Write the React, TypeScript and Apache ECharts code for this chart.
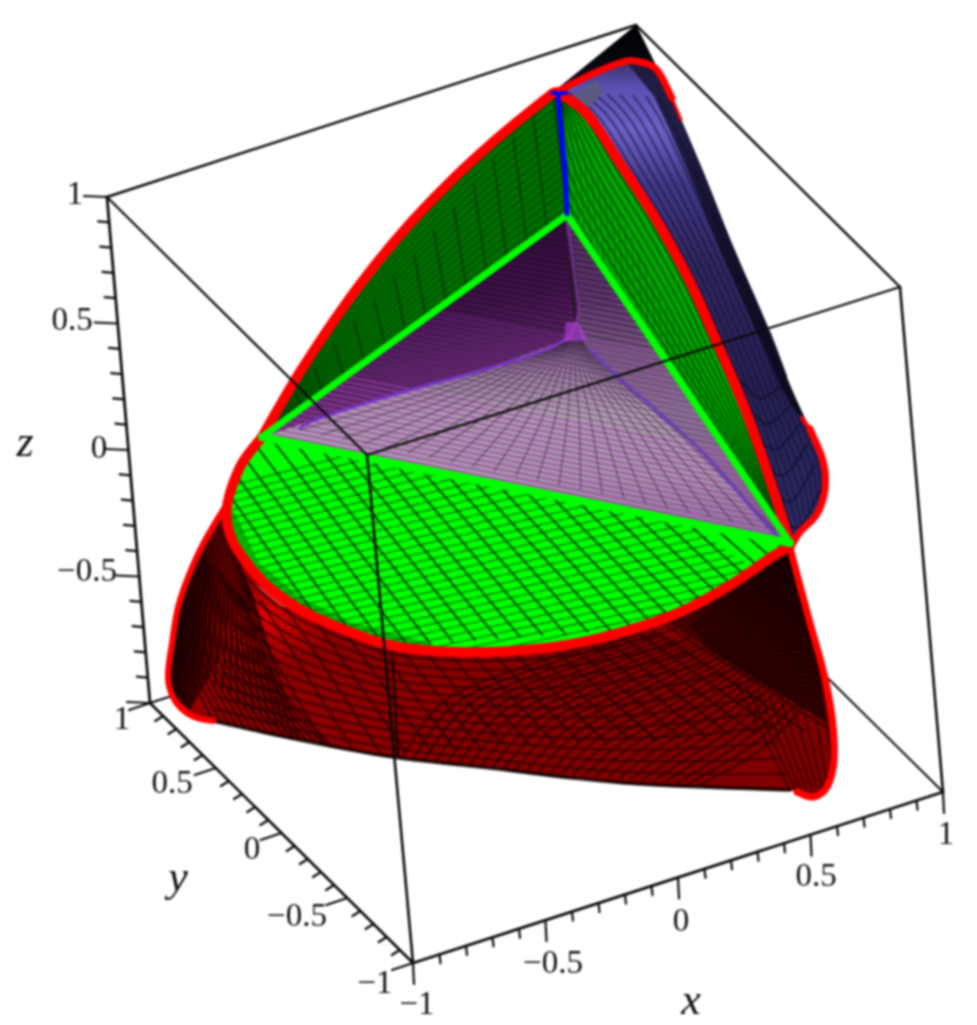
import React, { useEffect, useRef } from "react";
import * as echarts from "echarts";

type Pt = [number, number];

// Picture-space frame of the projected 3D plot
const FRAME_W = 977;
const FRAME_H = 1025;

// Projected cube corners
const cubeTopLeft: Pt = [107, 197];
const cubeTopBack: Pt = [636, 25];
const cubeTopRight: Pt = [900, 287];
const cubeTopFront: Pt = [367, 455];
const cubeLowLeft: Pt = [150, 703];
const cubeLowFront: Pt = [413, 963];
const cubeLowRight: Pt = [943, 792];
const cubeLowBack: Pt = [680, 532];

// Axis ticks
const tickValues = [-1, -0.9, -0.8, -0.7, -0.6, -0.5, -0.4, -0.3, -0.2, -0.1, 0, 0.1, 0.2, 0.3, 0.4, 0.5, 0.6, 0.7, 0.8, 0.9, 1];
const majorValues = [-1, -0.5, 0, 0.5, 1];
const zTickLabels: [string, number, number][] = [["1", 75, 193], ["0.5", 72, 319], ["0", 99, 447], ["−0.5", 87, 570]];
const yTickLabels: [string, number, number][] = [["1", 122, 718], ["0.5", 172, 782], ["0", 252, 848], ["−0.5", 297, 915], ["−1", 375, 982]];
const xTickLabels: [string, number, number][] = [["−1", 417, 1003], ["−0.5", 553, 962], ["0", 681, 920], ["0.5", 816, 875], ["1", 946, 833]];
const axisNames: [string, number, number][] = [["z", 25, 441], ["y", 178, 876], ["x", 691, 999]];

// Surface boundary curves
const arcUpperLeft: Pt[] = [[262, 437], [300, 372], [350, 298], [400, 235], [450, 182], [500, 136], [553, 93]];
const arcRight: Pt[] = [[556, 92], [587, 114], [623, 168], [657, 221], [690, 282], [717, 343], [743, 404], [767, 471], [790, 543]];
const arcBottom: Pt[] = [[262, 437], [240, 467], [227, 507], [231, 537], [247, 563], [270, 588], [305, 612], [350, 632], [390, 645], [435, 651], [490, 652], [560, 646], [622, 632], [680, 612], [732, 584], [770, 558], [790, 546]];
const rimLeft: Pt[] = [[226, 505], [200, 550], [180, 600], [172, 643], [168, 677], [173, 697], [183, 710], [197, 718], [213, 721]];
const edgeBottom: Pt[] = [[213, 721], [300, 740], [393, 757], [490, 768], [573, 778], [657, 785], [790, 790]];
const rimRight: Pt[] = [[790, 548], [810, 623], [823, 670], [832, 717], [834, 760], [827, 787], [813, 797], [797, 792]];
const blueTopArc: Pt[] = [[555, 93], [590, 75], [623, 62], [640, 62], [657, 70], [672, 98]];
const blueRightEdge: Pt[] = [[672, 98], [703, 171], [733, 246], [767, 325], [790, 385], [810, 429]];
const blueLobe: Pt[] = [[810, 429], [823, 461], [825, 489], [817, 514], [800, 532], [792, 545]];
const blueInnerEdge: Pt[] = [[654, 96], [690, 176], [721, 252], [757, 332], [784, 392], [810, 429]];
const blueLine: Pt[] = [[558, 96], [561, 130], [565, 172], [567, 214]];

const cornerLeft: Pt = [262, 437];
const cornerTop: Pt = [567, 215];
const cornerRight: Pt = [790, 543];

const violetLeft: Pt[] = [[300, 428], [323, 417], [400, 393], [490, 368], [540, 352], [567, 339]];
const violetRight: Pt[] = [[590, 350], [623, 382], [657, 411], [707, 457], [757, 514], [777, 536]];
const violetUp: Pt[] = [[567, 221], [575, 279], [578, 314], [570, 339]];

type Layer = { pts: Pt[]; closed?: boolean; fill?: any; stroke?: string; width?: number; opacity?: number };
const layers: Layer[] = [];

const lin = (x0: number, y0: number, x1: number, y1: number, stops: [number, string][]) =>
  new echarts.graphic.LinearGradient(x0, y0, x1, y1, stops.map(([offset, color]) => ({ offset, color })));

function smooth(p: Pt[], sub = 8): Pt[] {
  if (p.length < 3) return p.slice();
  const out: Pt[] = [];
  for (let i = 0; i < p.length - 1; i++) {
    const a = p[Math.max(i - 1, 0)], b = p[i], c = p[i + 1], d = p[Math.min(i + 2, p.length - 1)];
    for (let s = 0; s < sub; s++) {
      const t = s / sub, t2 = t * t, t3 = t2 * t;
      out.push([
        0.5 * (2 * b[0] + (c[0] - a[0]) * t + (2 * a[0] - 5 * b[0] + 4 * c[0] - d[0]) * t2 + (3 * b[0] - a[0] - 3 * c[0] + d[0]) * t3),
        0.5 * (2 * b[1] + (c[1] - a[1]) * t + (2 * a[1] - 5 * b[1] + 4 * c[1] - d[1]) * t2 + (3 * b[1] - a[1] - 3 * c[1] + d[1]) * t3),
      ]);
    }
  }
  out.push(p[p.length - 1]);
  return out;
}

function resample(p: Pt[], m: number): Pt[] {
  const s = smooth(p);
  const len = [0];
  for (let i = 1; i < s.length; i++) len.push(len[i - 1] + Math.hypot(s[i][0] - s[i - 1][0], s[i][1] - s[i - 1][1]));
  const total = len[len.length - 1] || 1;
  const out: Pt[] = [];
  let j = 0;
  for (let k = 0; k < m; k++) {
    const d = (total * k) / (m - 1);
    while (j < s.length - 2 && len[j + 1] < d) j++;
    const u = (d - len[j]) / ((len[j + 1] - len[j]) || 1);
    out.push([s[j][0] + (s[j + 1][0] - s[j][0]) * u, s[j][1] + (s[j + 1][1] - s[j][1]) * u]);
  }
  return out;
}

function inside(q: Pt, poly: Pt[]) {
  let c = false;
  for (let i = 0, j = poly.length - 1; i < poly.length; j = i++) {
    if (poly[i][1] > q[1] !== poly[j][1] > q[1] && q[0] < ((poly[j][0] - poly[i][0]) * (q[1] - poly[i][1])) / (poly[j][1] - poly[i][1]) + poly[i][0]) c = !c;
  }
  return c;
}

function edgePoint(inPt: Pt, outPt: Pt, poly: Pt[]): Pt {
  let a = inPt, b = outPt;
  for (let i = 0; i < 7; i++) {
    const m: Pt = [(a[0] + b[0]) / 2, (a[1] + b[1]) / 2];
    if (inside(m, poly)) a = m; else b = m;
  }
  return a;
}

function clipRuns(line: Pt[], poly: Pt[]): Pt[][] {
  const runs: Pt[][] = [];
  let cur: Pt[] | null = null;
  for (let i = 0; i < line.length; i++) {
    const on = inside(line[i], poly);
    if (on) {
      if (!cur) {
        cur = [];
        if (i > 0) cur.push(edgePoint(line[i], line[i - 1], poly));
      }
      cur.push(line[i]);
    } else if (cur) {
      cur.push(edgePoint(line[i - 1], line[i], poly));
      runs.push(cur);
      cur = null;
    }
  }
  if (cur) runs.push(cur);
  return runs.filter((r) => r.length > 1);
}

const area = (pts: Pt[], fill: any, opacity = 1) => layers.push({ pts, closed: true, fill, opacity });
const curve = (pts: Pt[], stroke: string, width: number, opacity = 1) => layers.push({ pts: smooth(pts), stroke, width, opacity });
const straight = (a: Pt, b: Pt, stroke: string, width: number, opacity = 1) => layers.push({ pts: [a, b], stroke, width, opacity });

function family(a: Pt[], b: Pt[], n: number, clip: Pt[], stroke: string, width: number, opacity = 1, from = 0, to = 1) {
  const A = resample(a, 36), B = resample(b, 36);
  for (let i = 0; i <= n; i++) {
    const t = from + ((to - from) * i) / n;
    const line = A.map((p, k): Pt => [p[0] * (1 - t) + B[k][0] * t, p[1] * (1 - t) + B[k][1] * t]);
    clipRuns(line, clip).forEach((r) => layers.push({ pts: r, stroke, width, opacity }));
  }
}

const rev = (p: Pt[]) => p.slice().reverse();

function buildScene() {
  const black = "#0a0a0a";
  // hidden cube edges first
  straight(cubeLowRight, cubeLowBack, black, 2);
  straight(cubeLowLeft, cubeLowBack, black, 2);
  straight(cubeTopBack, cubeLowBack, black, 2);

  // blue back surface
  const blue: Pt[] = [cornerRight, ...rev(smooth(arcRight)), cubeTopBack, ...smooth(blueRightEdge), ...smooth(blueLobe)];
  area(blue, lin(0, 0, 0, 1, [[0, "#090512"], [0.12, "#5a50b0"], [0.2, "#6c62c8"], [0.3, "#443a8c"], [0.45, "#2e2760"], [0.7, "#252050"], [1, "#2d2a66"]]));
  family(arcRight, [...blueRightEdge, ...blueLobe.slice(1, 3)], 9, blue, "#15112f", 1.7, 0.65);
  area([cubeTopBack, ...smooth(blueRightEdge), ...rev(smooth(blueInnerEdge)), [626, 62]], lin(1, 0, 0, 0.1, [[0, "#04030c"], [1, "#1a1638"]]), 0.85);
  family([[742, 382], [760, 398], [786, 382]], [[768, 500], [797, 528], [822, 486]], 5, blue, "#0e0b26", 1.6, 0.75);
  area([[553, 92], cubeTopBack, [672, 98], [657, 70], [640, 62], [623, 62], [590, 75]], lin(0, 0, 0, 1, [[0, "#000000"], [0.7, "#0d0b18"], [1, "#25233f"]]));
  area([[569, 97], [597, 80], [603, 92], [588, 108]], "#5c5a80");
  curve(blueTopArc, "#ff0000", 7);
  curve(blueLobe, "#ff0000", 7);
  curve([[672, 98], [681, 120]], "#ff0000", 3);
  curve([[802, 418], [812, 432]], "#ff0000", 4);

  // red lower surface
  const red: Pt[] = [...smooth(rimLeft), ...smooth(edgeBottom), ...rev(smooth(rimRight)), ...rev(smooth(arcBottom)).slice(0, 120)];
  area(red, lin(0, 0, 1, 0.3, [[0, "#b00000"], [0.3, "#8e0000"], [1, "#7e0000"]]));
  const rightDark: Pt[] = [[663, 620], [790, 548], [808, 623], [820, 670], [827, 723], [760, 682]];
  const leftDark: Pt[] = [[224, 510], [200, 550], [180, 600], [172, 643], [168, 690], [190, 710], [225, 650], [250, 590]];
  area(leftDark, lin(0, 0.35, 1, 0.55, [[0, "rgba(8,0,0,1)"], [0.4, "rgba(40,0,0,0.9)"], [1, "rgba(140,0,0,0)"]]));
  area([[258, 588], [222, 628], [268, 662], [340, 640], [300, 612]], new echarts.graphic.RadialGradient(0.35, 0.4, 0.75, [{ offset: 0, color: "rgba(225,0,0,1)" }, { offset: 1, color: "rgba(170,0,0,0)" }]));
  family(arcBottom.slice(4, 15), edgeBottom, 13, red, "#2c0000", 1.7, 0.85);
  family([[240, 600], [330, 755]], [[665, 625], [830, 730]], 20, red, "#240000", 1.8, 0.85);
  family([[400, 760], [440, 705], [500, 675], [640, 630]], [[700, 785], [760, 750], [810, 700], [825, 680]], 26, red, "#240000", 1.8, 0.85);
  family([[735, 680], [790, 790]], [[827, 723], [833, 785]], 8, red, "#240000", 1.6, 0.85);
  family([[200, 550], [180, 640], [215, 725]], [[245, 600], [275, 680], [330, 745]], 15, red, "#1a0000", 1.8, 0.85);
  family([[222, 520], [175, 660]], [[250, 590], [300, 742]], 16, red, "#1a0000", 1.7, 0.85);
  area(rightDark, lin(0.95, 0, 0.25, 0.9, [[0, "#120000"], [0.5, "#3a0000"], [1, "#6a0000"]]));
  family([[690, 625], [790, 548]], [[735, 680], [827, 723]], 28, rightDark, "#070000", 1.5, 0.6);
  family([[664, 620], [735, 680]], [[790, 548], [827, 723]], 28, rightDark, "#070000", 1.4, 0.6);
  straight([392, 650], [398, 757], "#1a0000", 2.2);
  curve(edgeBottom, "#120000", 3.5, 0.85);
  area([[255, 585], [275, 592], [300, 612], [280, 606]], "#e04040", 0.7);
  curve(rimLeft, "#ff0000", 6);
  curve(rimRight, "#ff0000", 7);

  // purple inner triangle
  const tri: Pt[] = [cornerLeft, cornerTop, cornerRight];
  area(tri, lin(0, 0, 0, 1, [[0, "#2a0a34"], [0.25, "#4c1c5a"], [0.42, "#8a6a90"], [0.6, "#ae9fae"], [0.8, "#a897a9"], [1, "#8a6a98"]]));
  area([cornerLeft, cornerTop, [578, 330], [567, 339], [490, 368], [400, 393], [323, 417]], lin(0.15, 0, 0.45, 0.95, [[0, "#23072c"], [0.55, "#3f1349"], [1, "#6b2f78"]]));
  area([cornerTop, cornerRight, ...rev(smooth(violetRight)), [578, 330]], "#6a4a78", 0.55);
  family([[560, 220], [574, 220]], [cornerLeft, cornerRight], 20, tri, "#1a0520", 1.3, 0.55, 0, 0.4);
  family([[560, 220], [574, 220]], [cornerLeft, cornerRight], 15, tri, "#6d2b7c", 1.5, 0.55, 0.42, 0.7);
  family([[560, 220], [574, 220]], [cornerLeft, cornerRight], 15, tri, "#9a3fa6", 1.8, 0.75, 0.72, 1);
  family([[300, 430], [420, 395], [500, 365], [575, 330], [567, 218]], [[775, 530], [680, 435], [620, 382], [578, 330], [567, 218]], 22, tri, "#2a1a2e", 1.3, 0.5);
  curve(violetLeft, "#7b35c8", 3);
  curve(violetRight, "#6a3fb0", 3.4);
  curve(violetUp, "#9a40c8", 3, 0.6);
  area([[566, 322], [578, 322], [588, 340], [564, 342]], "#b040d8", 0.65);

  // dark green upper-left wedge
  const wedgeA: Pt[] = [...smooth(arcUpperLeft), [558, 95], cornerTop];
  area(wedgeA, "#007000");
  family([cornerLeft, cornerTop], arcUpperLeft, 16, wedgeA, "#004a00", 1.6, 0.85);
  family([[275, 415], [287, 432]], [[553, 92], [567, 215]], 14, wedgeA, "#003400", 1.7, 0.85);

  // green right wedge
  const wedgeB: Pt[] = [cornerTop, ...smooth(arcRight).slice(0, -1), cornerRight];
  area(wedgeB, "#00a800");
  family(arcRight, [[562, 100], cornerTop, cornerRight], 11, wedgeB, "#004000", 1.7, 0.85);
  family([[556, 92], [567, 215]], [[790, 543], [780, 530]], 34, wedgeB, "#004000", 1, 0.55);

  // bright green disc
  const disc: Pt[] = [...smooth(arcBottom)];
  area(disc, "#00ff00");
  area([...smooth(arcBottom.slice(2, 10)), [432, 644], [350, 622], [300, 597], [258, 562], [236, 515]], "#00a800", 0.85);
  family([[215, 490], [520, 410]], [[340, 700], [800, 600]], 30, disc, "#006a00", 1.4, 0.85);
  family([[190, 440], [340, 650]], [[700, 460], [880, 610]], 24, disc, "#003a00", 1.9, 0.95);

  // thick outlines
  curve(arcRight, "#ff0000", 10);
  curve(arcUpperLeft, "#ff0000", 10);
  curve(arcBottom, "#ff0000", 10);
  straight(cornerLeft, cornerTop, "#00ff00", 7);
  straight(cornerTop, cornerRight, "#00ff00", 7);
  straight(cornerLeft, cornerRight, "#00ff00", 8);
  curve(blueLine, "#0000ff", 5);
  straight([552, 93], [566, 93], "#0000ee", 4);

  // front cube edges
  straight(cubeTopLeft, cubeTopBack, black, 2.4);
  straight(cubeTopBack, cubeTopRight, black, 2.4);
  straight(cubeTopRight, cubeTopFront, black, 2.2);
  straight(cubeTopFront, cubeTopLeft, black, 2.2);
  straight(cubeTopFront, cubeLowFront, black, 2.6);
  straight(cubeTopRight, cubeLowRight, black, 2.6);
  straight(cubeTopLeft, cubeLowLeft, black, 2.8);
  straight(cubeLowLeft, cubeLowFront, black, 2.6);
  straight(cubeLowFront, cubeLowRight, black, 2.8);

  // axis ticks, from the axis ends through linear scales
  const tick = (a: Pt, b: Pt, major: Pt, minor: Pt) =>
    tickValues.forEach((v) => {
      const t = (v + 1) / 2;
      const p: Pt = [b[0] + (a[0] - b[0]) * t, b[1] + (a[1] - b[1]) * t];
      const d = majorValues.includes(v) ? major : minor;
      straight(p, [p[0] + d[0], p[1] + d[1]], black, 2.2);
    });
  tick(cubeTopLeft, cubeLowLeft, [-23, -1], [-11, -1]);
  tick(cubeLowLeft, cubeLowFront, [-21, 7], [-8, 5]);
  tick(cubeLowRight, cubeLowFront, [1, 21], [1, 9]);
}

buildScene();

export default function App() {
  const ref = useRef<HTMLDivElement>(null);
  useEffect(() => {
    document.body.style.margin = "0";
    const chart = echarts.init(ref.current!, undefined, { renderer: "svg" });
    const tickLabelItems = [...zTickLabels, ...yTickLabels, ...xTickLabels];
    chart.setOption({
      animation: false,
      backgroundColor: "#ffffff",
      grid: { left: 0, right: 0, top: 0, bottom: 0 },
      xAxis: { type: "value", min: 0, max: FRAME_W, show: false },
      yAxis: { type: "value", min: 0, max: FRAME_H, inverse: true, show: false },
      series: [
        {
          type: "custom",
          clip: false,
          silent: true,
          progressive: 0,
          data: layers.map((_, i) => [i]),
          renderItem: (params: any, api: any) => {
            const l = layers[params.dataIndex];
            const points = l.pts.map((p) => api.coord(p));
            return {
              type: l.closed ? "polygon" : "polyline",
              shape: { points },
              style: l.closed
                ? { fill: l.fill, stroke: "none", opacity: l.opacity ?? 1 }
                : { fill: "none", stroke: l.stroke, lineWidth: l.width, opacity: l.opacity ?? 1, lineJoin: "round", lineCap: "round" },
            };
          },
        },
        {
          type: "custom",
          clip: false,
          silent: true,
          data: tickLabelItems.map((t) => [t[1], t[2], t[0]]),
          renderItem: (params: any, api: any) => {
            const item = tickLabelItems[params.dataIndex];
            const c = api.coord([item[1], item[2]]);
            return {
              type: "text",
              x: c[0],
              y: c[1],
              style: { text: item[0], font: '33px "Liberation Serif"', fill: "#111111", align: "center", verticalAlign: "middle" },
            };
          },
        },
        {
          type: "custom",
          clip: false,
          silent: true,
          data: axisNames.map((t) => [t[1], t[2], t[0]]),
          renderItem: (params: any, api: any) => {
            const item = axisNames[params.dataIndex];
            const c = api.coord([item[1], item[2]]);
            return {
              type: "text",
              x: c[0],
              y: c[1],
              style: { text: item[0], font: 'italic 44px "Liberation Serif"', fill: "#111111", align: "center", verticalAlign: "middle" },
            };
          },
        },
      ],
    });
    return () => chart.dispose();
  }, []);
  return <div ref={ref} style={{ position: "absolute", left: 0, top: 0, width: FRAME_W, height: FRAME_H, filter: "blur(0.8px)" }} />;
}
